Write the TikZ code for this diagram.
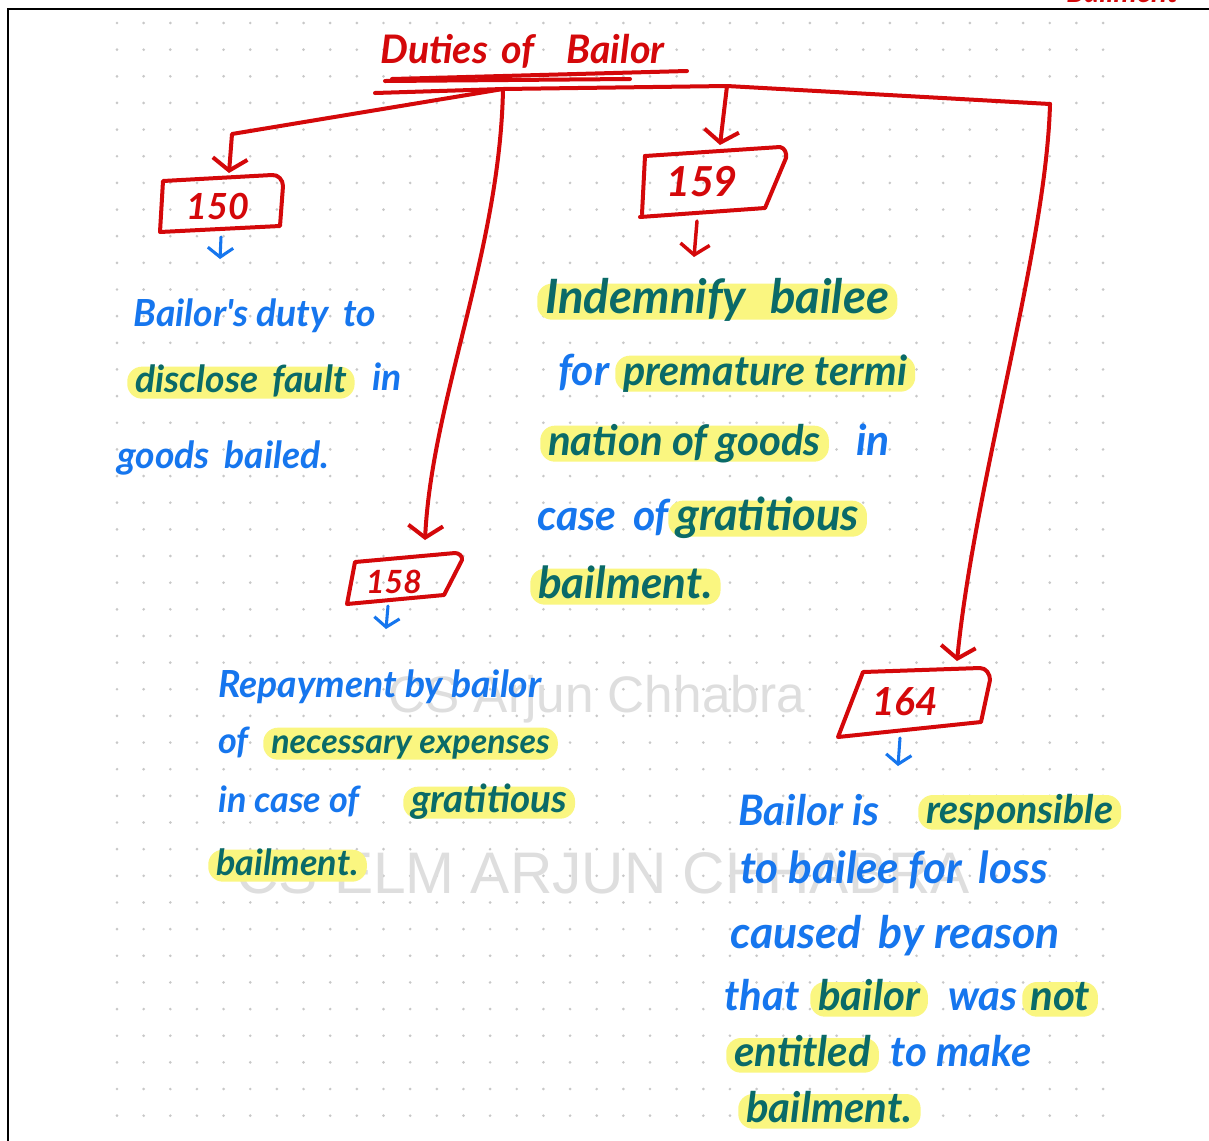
\documentclass[tikz,border=0pt]{standalone}
\usepackage{fontspec}
\newfontfamily\hand{Lato}
\newfontfamily\wmfont{Liberation Sans}
\usetikzlibrary{arrows.meta}
\definecolor{inkred}{RGB}{212,8,10}
\definecolor{penblue}{RGB}{22,118,238}
\definecolor{hlteal}{RGB}{10,106,104}
\definecolor{hlyellow}{RGB}{250,246,128}
\definecolor{griddot}{RGB}{200,200,200}
\definecolor{wmgray}{RGB}{222,222,222}
\newcommand{\handsize}[1]{\hand\bfseries\itshape\fontsize{#1}{#1}\selectfont}
\tikzset{
  ink/.style={draw=inkred, line width=3pt, line cap=round, line join=round},
  conn/.style={ink, -{Straight Barb[length=9pt,width=26pt]}},
  smallarrow/.style={draw=penblue, line width=2.3pt, line cap=round, line join=round,
    -{Straight Barb[length=7pt,width=19pt]}},
  redsmall/.style={ink, line width=2.6pt, -{Straight Barb[length=8pt,width=22pt]}},
  pen/.style={text=penblue, inner sep=0pt, anchor=base west},
  hlword/.style={text=hlteal, fill=hlyellow, anchor=base west, inner xsep=6pt,
    inner ysep=3pt, rounded corners=11pt},
  boxlabel/.style={text=inkred, inner sep=0pt},
  wm/.style={text=wmgray, font=\wmfont, inner sep=0pt, anchor=base west},
  block/.style={every node/.append style={font=\handsize{#1}}},
  band/.style 2 args={every node/.append style={text height=#1, text depth=#2}},
}
\begin{document}
\begin{tikzpicture}[x=0.75pt,y=-0.75pt]
\useasboundingbox (0,0) rectangle (1209,1140);
\fill[white] (0,0) rectangle (1209,1140);

% dotted page
\foreach \i in {0,...,37}{
  \foreach \j in {0,...,41}{
    \fill[griddot] (117+26.65*\i,23+26.65*\j) circle[radius=1.1pt];
  }
}

% page frame and the cut-off heading of the next note
\draw[line width=2pt] (8,1145) -- (8,9) -- (1215,9);
\begin{scope}
  \clip (0,0) rectangle (1209,1140);
  \node[text=inkred, inner sep=0pt, anchor=base west, font=\handsize{22}]
    (nexthead) at (1066,2) {Bailment};
\end{scope}

% watermarks
\node[wm, font=\wmfont\fontsize{38.5}{38.5}\selectfont] (wm1) at (388,712) {CS Arjun Chhabra};
\node[wm, font=\wmfont\fontsize{44}{44}\selectfont] (wm2) at (236,893) {CS ELM ARJUN CHHABRA};

% title
\node[text=inkred, inner sep=0pt, anchor=base west, font=\handsize{29.5}]
  (title) at (380,63) {Duties\hspace{10pt}of\hspace{24pt}Bailor};
\draw[ink] (385,81) -- (630,79);
\draw[ink] (392,79) -- (687,71);

% junction points of the tree
\coordinate (barL) at (375,93);
\coordinate (jn) at (503,89);
\coordinate (j159) at (727,86);
\coordinate (barR) at (1050,104);
\coordinate (elbow150) at (232,134);
\draw[ink] (barL) -- (jn) -- (j159) -- (barR);

% boxes with section numbers
\coordinate (t150) at (229,173);
\draw[ink] (163,181) -- (272,175) to[out=5,in=90] (283,186) -- (280,226) -- (160,232) -- cycle;
\node[boxlabel, font=\handsize{27}] (n150) at (218,206) {150};

\coordinate (t159) at (720,145);
\draw[ink] (645,156) -- (780,147) to[out=-10,in=80] (786,158) -- (765,208) -- (640,217);
\draw[ink] (645,156) -- (642,214);
\node[boxlabel, font=\handsize{31}] (n159) at (702,182) {159};

\coordinate (t158) at (425,540);
\draw[ink] (355,562) -- (455,553) to[out=0,in=80] (462,560) -- (444,595) -- (347,604) -- cycle;
\node[boxlabel, font=\handsize{24}] (n158) at (394,582) {158};

\coordinate (t164) at (957,661);
\draw[ink] (863,672) -- (980,668) to[out=0,in=90] (990,680) -- (981,722) -- (838,737) -- cycle;
\node[boxlabel, font=\handsize{29}] (n164) at (905,702) {164};

% connectors into the boxes
\draw[conn] (jn) -- (elbow150) -- (t150);
\draw[conn] (j159) -- (t159);
\draw[conn] (jn) .. controls (500,250) and (432,400) .. (t158);
\draw[conn] (barR) .. controls (1046,250) and (975,480) .. (t164);

% arrows out of the boxes
\coordinate (o150) at (221,237);  \coordinate (h150) at (220,259);
\coordinate (o159) at (697,221);  \coordinate (h159) at (694,257);
\coordinate (o158) at (388,606);  \coordinate (h158) at (386,629);
\coordinate (o164) at (900,738);  \coordinate (h164) at (898,766);
\draw[smallarrow] (o150) -- (h150);
\draw[redsmall] (o159) -- (h159);
\draw[smallarrow] (o158) -- (h158);
\draw[smallarrow] (o164) -- (h164);

% section 150
\begin{scope}[block=28, band={16pt}{2pt}]
  \node[pen] (a1) at (133,326) {Bailor's duty\, to};
  \node[hlword] (a2) at (127,392) {disclose\, fault};
  \node[pen] (a3) at (372,390) {in};
  \node[pen] (a4) at (117,468) {goods\, bailed.};
\end{scope}

% section 159
\begin{scope}[block=32, band={19pt}{2pt}]
  \node[hlword, font=\handsize{35.5}] (b1) at (537,313) {Indemnify\hspace{18pt}bailee\hspace{4pt}};
  \node[pen] (b2) at (558,385) {for};
  \node[hlword, font=\handsize{31}] (b3) at (615,385) {premature termi};
  \node[hlword, font=\handsize{31.5}] (b4) at (540,455) {nation of goods};
  \node[pen] (b5) at (856,455) {in};
  \node[pen] (b6) at (537,530) {case\, of};
  \node[hlword, font=\handsize{34}] (b7) at (668,530) {gratitious};
  \node[hlword, font=\handsize{33}] (b8) at (530,598) {bailment.\hspace{6pt}};
\end{scope}

% section 158
\begin{scope}[block=27, band={16pt}{2pt}]
  \node[pen, font=\handsize{28}] (c1) at (218,697) {Repayment by bailor};
  \node[pen] (c2) at (218,753) {of};
  \node[hlword, font=\handsize{25.5}] (c3) at (263,753) {necessary expenses};
  \node[pen] (c4) at (218,812) {in case of};
  \node[hlword, font=\handsize{29}] (c5) at (403,812) {gratitious};
  \node[hlword] (c6) at (208,875) {bailment.\hspace{6pt}};
\end{scope}

% section 164
\begin{scope}[block=31.5, band={18pt}{2pt}]
  \node[pen] (d1) at (738,825) {Bailor is};
  \node[hlword, font=\handsize{29.5}] (d2) at (918,823) {responsible};
  \node[pen, font=\handsize{33}] (d3) at (740,883) {to bailee for\, loss};
  \node[pen, font=\handsize{33.5}] (d4) at (730,948) {caused\, by reason};
  \node[pen] (d5) at (724,1010) {that};
  \node[hlword] (d6) at (810,1010) {bailor};
  \node[pen] (d7) at (948,1010) {was};
  \node[hlword] (d8) at (1022,1010) {not};
  \node[hlword] (d9) at (726,1066) {entitled};
  \node[pen] (d10) at (890,1066) {to make};
  \node[hlword] (d11) at (738,1122) {bailment.};
\end{scope}
\end{tikzpicture}
\end{document}
